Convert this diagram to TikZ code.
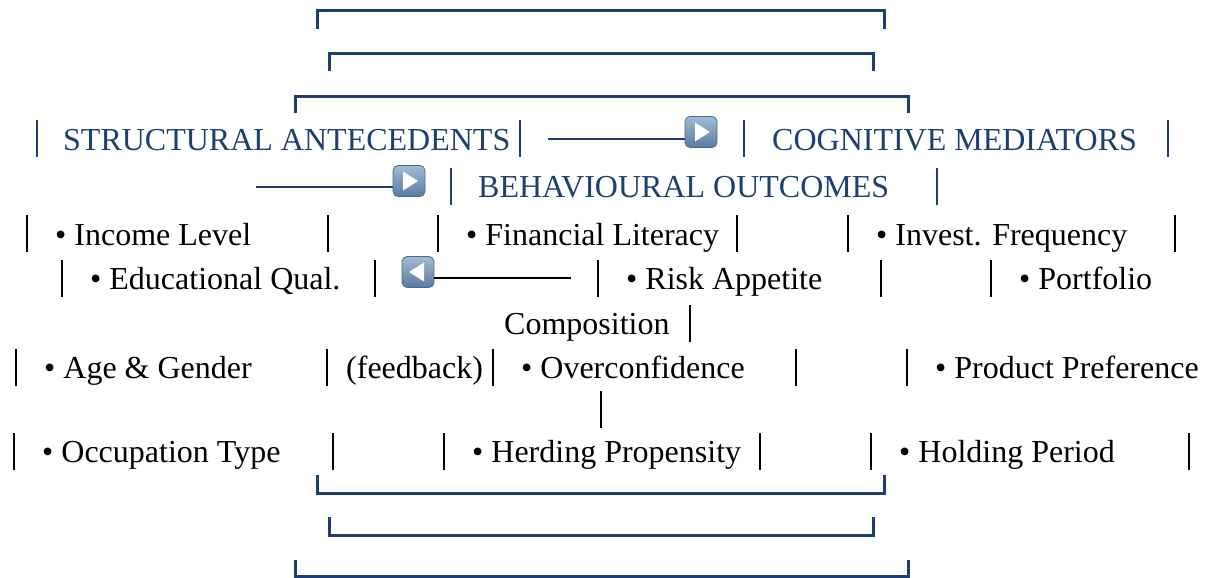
\documentclass[tikz,border=0pt]{standalone}
\usepackage{fontspec}
\setmainfont{Liberation Serif}
\usetikzlibrary{calc}
\definecolor{navy}{HTML}{1F3F73}
\definecolor{iconTop}{HTML}{A3BAD4}
\definecolor{iconBot}{HTML}{587B9F}
\definecolor{iconEdge}{HTML}{4A6A8E}
\newcommand{\vbar}{\rule[-7pt]{2.4pt}{37pt}}
\begin{document}
\begin{tikzpicture}[x=1pt,y=-1pt,
  txt/.style={anchor=base west,inner sep=0pt,font=\fontsize{32}{38}\selectfont},
  head/.style={txt,text=navy},
  bar/.style={anchor=base,inner sep=0pt,font=\fontsize{32}{38}\selectfont},
  hbar/.style={bar,text=navy},
  bracket/.style={draw=navy,line width=3pt},
  link/.style={line width=2.5pt},
  icon/.style={minimum width=32pt,minimum height=31pt,inner sep=0pt,rounded corners=5pt,
    top color=iconTop,bottom color=iconBot,draw=iconEdge,line width=0.8pt},
  tri/.style={fill=white}
]
\fill[white] (0,0) rectangle (1205,578);
% brackets top
\draw[bracket] (317,29) -- (317,11) -- (884,11) -- (884,29);
\draw[bracket] (329,71) -- (329,54) -- (873,54) -- (873,71);
\draw[bracket] (295,113) -- (295,96) -- (908,96) -- (908,113);
% brackets bottom
\draw[bracket] (317,475) -- (317,493) -- (884,493) -- (884,475);
\draw[bracket] (329,517) -- (329,535) -- (873,535) -- (873,517);
\draw[bracket] (295,560) -- (295,576) -- (908,576) -- (908,560);

% row 1
\node[hbar] (r1b1) at (37,150) {\vbar};
\node[head] (sa) at (63,150) {STRUCTURAL ANTECEDENTS};
\node[hbar] (r1b2) at (520,150) {\vbar};
\node[icon] (ic1) at (701,132) {};
\fill[tri] ($(ic1.center)+(-6,-9.5)$) -- ++(0,19) -- ++(15,-9.5) -- cycle;
\coordinate (l1) at (548,139);
\draw[link,navy] (l1) -- (l1 -| ic1.west);
\node[hbar] (r1b3) at (744,150) {\vbar};
\node[head] (cm) at (772,150) {COGNITIVE MEDIATORS};
\node[hbar] (r1b4) at (1168,150) {\vbar};

% row 2
\node[icon] (ic2) at (409,181) {};
\fill[tri] ($(ic2.center)+(-6,-9.5)$) -- ++(0,19) -- ++(15,-9.5) -- cycle;
\coordinate (l2) at (256,187);
\draw[link,navy] (l2) -- (l2 -| ic2.west);
\node[hbar] (r2b1) at (451,198) {\vbar};
\node[head] (bo) at (478,197) {BEHAVIOURAL OUTCOMES};
\node[hbar] (r2b2) at (937,198) {\vbar};

% row 3
\node[bar] at (27,245) {\vbar};
\node[txt] (inc) at (55,245) {• Income Level};
\node[bar] at (328,245) {\vbar};
\node[bar] at (438,245) {\vbar};
\node[txt] (fl) at (466,245) {• Financial Literacy};
\node[bar] at (737,245) {\vbar};
\node[bar] at (848,245) {\vbar};
\node[txt] (ivf) at (876,245) {• Invest. Frequency};
\node[bar] at (1175,245) {\vbar};

% row 4
\node[bar] at (62,290) {\vbar};
\node[txt] (edu) at (90,289) {• Educational Qual.};
\node[bar] at (375,290) {\vbar};
\node[icon] (ic3) at (418,272) {};
\fill[tri] ($(ic3.center)+(6,-9.5)$) -- ++(0,19) -- ++(-15,-9.5) -- cycle;
\coordinate (l3) at (571,278);
\draw[link] (l3) -- (l3 -| ic3.east);
\node[bar] at (598,290) {\vbar};
\node[txt] (risk) at (626,289) {• Risk Appetite};
\node[bar] at (881,290) {\vbar};
\node[bar] at (991,290) {\vbar};
\node[txt] (port) at (1019,289) {• Portfolio};

% row 5
\node[txt] (comp) at (504,334) {Composition};
\node[bar] at (690,335) {\vbar};

% row 6
\node[bar] at (16,379) {\vbar};
\node[txt] (age) at (44,378) {• Age \& Gender};
\node[bar] at (327,379) {\vbar};
\node[txt] (fb) at (346,378) {(feedback)};
\node[bar] at (493,379) {\vbar};
\node[txt] (oc) at (521,378) {• Overconfidence};
\node[bar] at (796,379) {\vbar};
\node[bar] at (907,379) {\vbar};
\node[txt] (pp) at (935,378) {• Product Preference};

% row 7
\node[bar] at (601,421) {\vbar};

% row 8
\node[bar] at (14,463) {\vbar};
\node[txt] (occ) at (42,462) {• Occupation Type};
\node[bar] at (333,463) {\vbar};
\node[bar] at (444,463) {\vbar};
\node[txt] (herd) at (472,462) {• Herding Propensity};
\node[bar] at (760,463) {\vbar};
\node[bar] at (871,463) {\vbar};
\node[txt] (hp) at (899,462) {• Holding Period};
\node[bar] at (1189,463) {\vbar};
\end{tikzpicture}
\end{document}
